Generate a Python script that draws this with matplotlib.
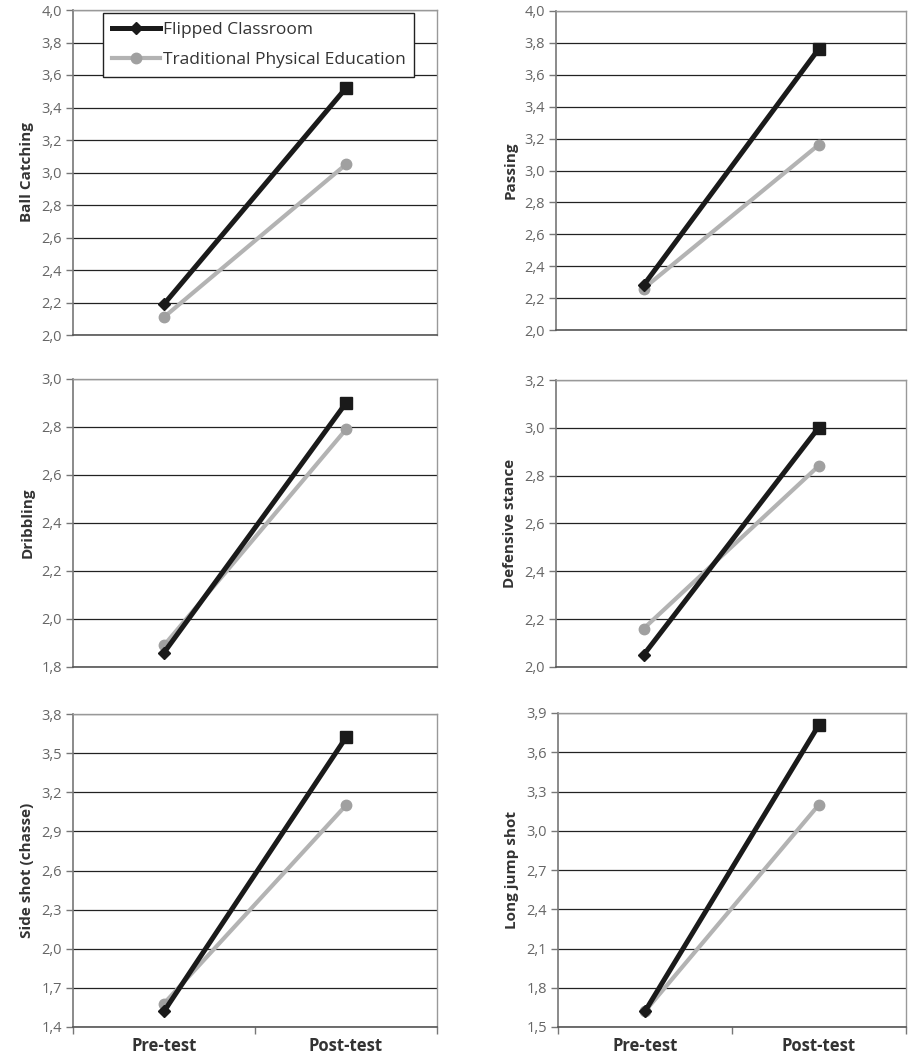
import numpy as np
import matplotlib.pyplot as plt
from matplotlib.ticker import FixedLocator, NullFormatter

# Data
phases = ["Pre-test", "Post-test"]
skills = ["Ball Catching", "Passing", "Dribbling", "Defensive stance",
          "Side shot (chasse)", "Long jump shot"]
flipped = [[2.19, 3.52], [2.28, 3.76], [1.86, 2.90],
           [2.05, 3.00], [1.52, 3.62], [1.62, 3.81]]
traditional = [[2.11, 3.05], [2.26, 3.16], [1.89, 2.79],
               [2.16, 2.84], [1.58, 3.10], [1.62, 3.20]]
y_ranges = [(2.0, 4.0, 0.2), (2.0, 4.0, 0.2), (1.8, 3.0, 0.2),
            (2.0, 3.2, 0.2), (1.4, 3.8, 0.3), (1.5, 3.9, 0.3)]

plt.rcParams['font.family'] = ['Open Sans', 'DejaVu Sans']

W, H = 908, 1062
fig = plt.figure(figsize=(W / 100, H / 100), dpi=100)

# panel boxes in pixels: left, top, right, bottom
boxes = [(73, 10, 437, 335), (556, 11, 906, 330),
         (73, 379, 437, 667), (556, 380, 906, 667),
         (73, 714, 437, 1027), (558, 713, 906, 1027)]

black = '#1a1a1a'
grey = '#b3b3b3'
grey_mk = '#a0a0a0'

for i, (l, t, r, b) in enumerate(boxes):
    ax = fig.add_axes([l / W, 1 - b / H, (r - l) / W, (b - t) / H])
    lo, hi, step = y_ranges[i]
    x = np.arange(len(phases))
    ax.plot(x, traditional[i], color=grey, lw=3.0, marker='o', ms=7.5,
            mfc=grey_mk, mec=grey_mk, label='Traditional Physical Education', zorder=3)
    ax.plot(x, flipped[i], color=black, lw=3.6, marker='D', ms=6,
            mfc=black, mec=black, label='Flipped Classroom', zorder=4)
    ax.plot(x[1:], flipped[i][1:], ls='none', marker='s', ms=8,
            mfc=black, mec=black, zorder=5)

    ax.set_xlim(-0.5, 1.5)
    ax.set_ylim(lo, hi)
    ticks = np.round(np.arange(lo, hi + step / 2, step), 2)
    ax.set_yticks(ticks)
    ax.set_yticklabels([f"{v:.1f}".replace('.', ',') for v in ticks])
    ax.yaxis.grid(True, color='#222222', lw=0.9)
    ax.set_axisbelow(True)
    ax.tick_params(axis='y', direction='out', length=5, width=1,
                   color='#777777', labelcolor='#666666', labelsize=10.5, pad=3)

    for side in ['top', 'right']:
        ax.spines[side].set_color('#999999')
        ax.spines[side].set_linewidth(1.0)
    ax.spines['left'].set_color('#777777')
    ax.spines['left'].set_linewidth(1.2)
    ax.spines['bottom'].set_color('#555555')
    ax.spines['bottom'].set_linewidth(1.2)

    ax.set_ylabel(skills[i], fontsize=11, fontweight='bold', color='#333333',
                  labelpad=5)

    if i >= 4:
        ax.xaxis.set_major_locator(FixedLocator([-0.5, 0.5, 1.5]))
        ax.xaxis.set_major_formatter(NullFormatter())
        ax.xaxis.set_minor_locator(FixedLocator(x))
        ax.set_xticklabels(phases, minor=True)
        ax.tick_params(axis='x', which='major', direction='out', length=5,
                       width=1, color='#777777')
        ax.tick_params(axis='x', which='minor', length=0, labelsize=12,
                       labelcolor='#333333', pad=7)
        for lab in ax.get_xticklabels(minor=True):
            lab.set_fontweight('bold')
    else:
        ax.set_xticks([])

    if i == 0:
        handles, labels = ax.get_legend_handles_labels()
        leg = ax.legend(handles[::-1], labels[::-1], loc='upper left',
                        bbox_to_anchor=(0.082, 0.99), fontsize=12.5,
                        frameon=True, fancybox=False, framealpha=1,
                        edgecolor='#222222', handlelength=2.8,
                        handletextpad=0.15, borderpad=0.5, labelspacing=0.8,
                        borderaxespad=0)
        leg.get_frame().set_linewidth(1.0)
        for txt in leg.get_texts():
            txt.set_color('#333333')

fig.savefig('out.png', dpi=100)
